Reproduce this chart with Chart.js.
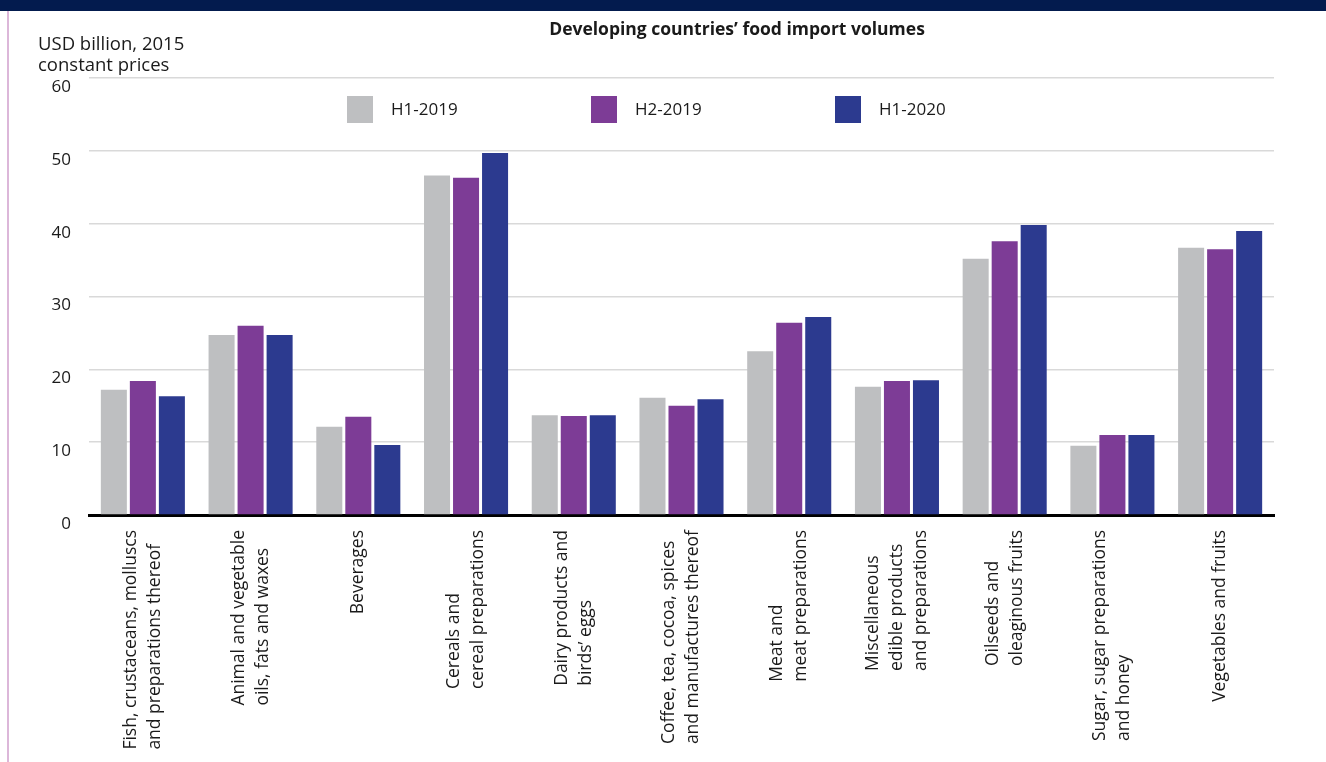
<!DOCTYPE html>
<html>
<head>
<meta charset="utf-8">
<script src="https://cdn.jsdelivr.net/npm/chart.js@4.4.1/dist/chart.umd.min.js"></script>
<style>
  html, body { margin: 0; padding: 0; background: #fff; }
  #wrap { position: relative; width: 1326px; height: 762px; overflow: hidden; }
  #band { position: absolute; left: 0; top: 0; width: 1326px; height: 11px; background: #031b4e; }
  #edge { position: absolute; left: 7px; top: 11px; width: 2px; height: 751px; background: #dcb7d9; }
  canvas { position: absolute; left: 0; top: 0; }
</style>
</head>
<body>
<div id="wrap">
  <canvas id="myChart" width="1326" height="762"></canvas>
  <div id="band"></div>
  <div id="edge"></div>
</div>
<script>
'use strict';

// categories (one array of lines per label)
const categories = [
    ['Fish, crustaceans, molluscs', 'and preparations thereof'],
    ['Animal and vegetable', 'oils, fats and waxes'],
    ['Beverages'],
    ['Cereals and', 'cereal preparations'],
    ['Dairy products and', 'birds\u2019 eggs'],
    ['Coffee, tea, cocoa, spices', 'and manufactures thereof'],
    ['Meat and', 'meat preparations'],
    ['Miscellaneous', 'edible products', 'and preparations'],
    ['Oilseeds and', 'oleaginous fruits'],
    ['Sugar, sugar preparations', 'and honey'],
    ['Vegetables and fruits']
];

const seriesNames = ['H1-2019', 'H2-2019', 'H1-2020'];

const h1_2019 = [17.2, 24.7, 12.1, 46.6, 13.7, 16.1, 22.5, 17.6, 35.2, 9.5, 36.7];
const h2_2019 = [18.4, 26.0, 13.5, 46.3, 13.6, 15.0, 26.4, 18.4, 37.6, 11.0, 36.5];
const h1_2020 = [16.3, 24.7, 9.6, 49.7, 13.7, 15.9, 27.2, 18.5, 39.8, 11.0, 39.0];

const yTicks = [0, 10, 20, 30, 40, 50, 60];

const colors = ['#bebfc1', '#7d3c96', '#2c3a8f'];

const FONT = '"Open Sans", "Noto Sans", sans-serif';
const TEXT = '#1a1a1a';

// titles, legend and the left-aligned rotated category labels
const decorations = {
    id: 'decorations',
    afterDraw(chart) {
        const ctx = chart.ctx;
        const xs = chart.scales.x;
        ctx.save();
        ctx.fillStyle = TEXT;

        // chart title
        ctx.font = 'bold 17.5px ' + FONT;
        ctx.textAlign = 'center';
        ctx.textBaseline = 'middle';
        ctx.fillText('Developing countries\u2019 food import volumes', 737, 30);

        // unit label
        ctx.font = '18.5px ' + FONT;
        ctx.textAlign = 'left';
        ctx.fillText('USD billion, 2015', 38, 45);
        ctx.fillText('constant prices', 38, 66);

        // legend
        ctx.font = '17px ' + FONT;
        const legendX = [347, 591, 835];
        chart.data.datasets.forEach(function(ds, i) {
            ctx.fillStyle = ds.backgroundColor;
            ctx.fillRect(legendX[i], 96, 26, 27);
            ctx.fillStyle = TEXT;
            ctx.fillText(ds.label, legendX[i] + 44, 110);
        });

        // category labels
        const lh = 24;
        ctx.font = '17.5px ' + FONT;
        categories.forEach(function(lines, i) {
            const cx = xs.getPixelForValue(i);
            let maxW = 0;
            lines.forEach(function(l) { maxW = Math.max(maxW, ctx.measureText(l).width); });
            const startY = xs.top + 15 + maxW;
            lines.forEach(function(l, j) {
                ctx.save();
                ctx.translate(cx + (j - (lines.length - 1) / 2) * lh, startY);
                ctx.rotate(-Math.PI / 2);
                ctx.textAlign = 'left';
                ctx.textBaseline = 'middle';
                ctx.fillText(l, 0, 0);
                ctx.restore();
            });
        });
        ctx.restore();
    }
};

const ctx = document.getElementById('myChart').getContext('2d');

const chart = new Chart(ctx, {
    type: 'bar',
    data: {
        labels: categories,
        datasets: [
            { label: seriesNames[0], data: h1_2019, backgroundColor: colors[0] },
            { label: seriesNames[1], data: h2_2019, backgroundColor: colors[1] },
            { label: seriesNames[2], data: h1_2020, backgroundColor: colors[2] }
        ]
    },
    options: {
        responsive: false,
        animation: false,
        layout: { padding: { top: 78, right: 52, left: 0, bottom: 0 } },
        datasets: {
            bar: { categoryPercentage: 0.808, barPercentage: 0.897, borderWidth: 0 }
        },
        plugins: {
            legend: { display: false },
            title: { display: false },
            tooltip: { enabled: false }
        },
        scales: {
            x: {
                grid: { display: false },
                border: { display: true, color: '#000', width: 3 },
                ticks: { display: false },
                afterFit: function(scale) { scale.height = 247; }
            },
            y: {
                min: 0,
                max: 60,
                afterBuildTicks: function(scale) {
                    scale.ticks = yTicks.map(function(v) { return { value: v }; });
                },
                afterFit: function(scale) { scale.width = 89; },
                grid: { color: '#d9d9d9', lineWidth: 1.5, drawTicks: false },
                border: { display: false },
                ticks: {
                    padding: 18,
                    labelOffset: 9,
                    color: TEXT,
                    font: { family: FONT, size: 17 }
                }
            }
        }
    },
    plugins: [decorations]
});
</script>
</body>
</html>
